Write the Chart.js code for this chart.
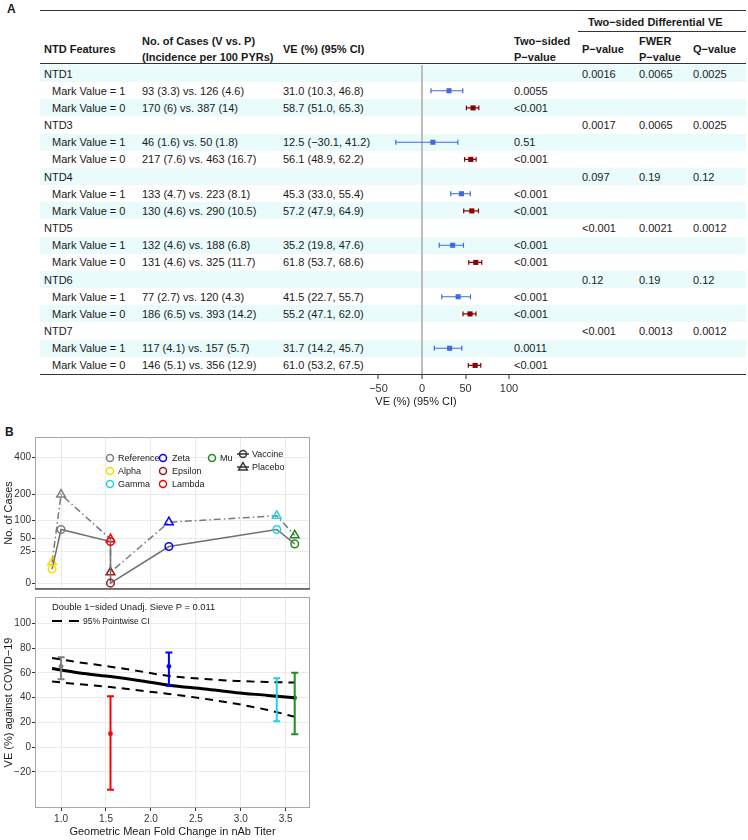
<!DOCTYPE html>
<html>
<head>
<meta charset="utf-8">
<script src="https://cdn.jsdelivr.net/npm/chart.js@4.4.1/dist/chart.umd.min.js"></script>
<style>
  html, body { margin: 0; padding: 0; background: #fff; }
  #fig { position: relative; width: 748px; height: 840px; overflow: hidden;
         font-family: "Liberation Sans", Arial, sans-serif; color: #1a1a1a; }
  .t { position: absolute; z-index: 1; font-size: 11px; line-height: 14px; white-space: nowrap; }
  .b { font-weight: bold; }
  .rule { position: absolute; z-index: 1; background: #333; }
  .band { position: absolute; z-index: 0; left: 40px; width: 706px; background: #e9fbfb; }
  .box { position: absolute; z-index: 2; }
</style>
</head>
<body>
<div id="fig">
  <div class="box" style="left:312px;top:55px;width:213px;height:355px"><canvas id="forest" width="213" height="355"></canvas></div>
  <div class="box" style="left:0;top:430px;width:322px;height:166px"><canvas id="cases" width="322" height="166"></canvas></div>
  <div class="box" style="left:0;top:590px;width:322px;height:250px"><canvas id="ve" width="322" height="250"></canvas></div>
</div>
<script>
Chart.defaults.font.family = '"Liberation Sans", Arial, sans-serif';
Chart.defaults.color = "#333";

// ---------- panel A data
const features = ["NTD1", "NTD3", "NTD4", "NTD5", "NTD6", "NTD7"];
const casesM1 = ["93 (3.3) vs. 126 (4.6)", "46 (1.6) vs. 50 (1.8)", "133 (4.7) vs. 223 (8.1)",
                 "132 (4.6) vs. 188 (6.8)", "77 (2.7) vs. 120 (4.3)", "117 (4.1) vs. 157 (5.7)"];
const casesM0 = ["170 (6) vs. 387 (14)", "217 (7.6) vs. 463 (16.7)", "130 (4.6) vs. 290 (10.5)",
                 "131 (4.6) vs. 325 (11.7)", "186 (6.5) vs. 393 (14.2)", "146 (5.1) vs. 356 (12.9)"];
const veM1 = [31.0, 12.5, 45.3, 35.2, 41.5, 31.7];
const loM1 = [10.3, -30.1, 33.0, 19.8, 22.7, 14.2];
const hiM1 = [46.8, 41.2, 55.4, 47.6, 55.7, 45.7];
const veM0 = [58.7, 56.1, 57.2, 61.8, 55.2, 61.0];
const loM0 = [51.0, 48.9, 47.9, 53.7, 47.1, 53.2];
const hiM0 = [65.3, 62.2, 64.9, 68.6, 62.0, 67.5];
const pM1 = ["0.0055", "0.51", "<0.001", "<0.001", "<0.001", "0.0011"];
const pM0 = ["<0.001", "<0.001", "<0.001", "<0.001", "<0.001", "<0.001"];
const diffP = ["0.0016", "0.0017", "0.097", "<0.001", "0.12", "<0.001"];
const fwerP = ["0.0065", "0.0065", "0.19", "0.0021", "0.19", "0.0013"];
const qValue = ["0.0025", "0.0025", "0.12", "0.0012", "0.12", "0.0012"];
const forestTicks = [-50, 0, 50, 100];

// ---------- panel B data
const variants = ["Alpha", "Reference", "Lambda", "Epsilon", "Zeta", "Gamma", "Mu"];
const variantColors = ["#ffd700", "#7f7f7f", "#ff0000", "#9b1c1c", "#0000ff", "#22d3e3", "#228b22"];
const foldChange = [0.9, 1.0, 1.55, 1.55, 2.2, 3.4, 3.6];
const vaccineCases = [5, 73, 44, 0, 34, 73, 39];
const placeboCases = [11, 199, 49, 3, 94, 115, 58];
const veEst = [null, 65.3, 10.8, null, 65.3, 41.1, 39.8];
const veLo = [null, 54.8, -34.5, null, 49.5, 20.8, 10.3];
const veHi = [null, 72.7, 41.1, null, 76.4, 55.6, 60.0];
const legendOrder = ["Reference", "Alpha", "Gamma", "Zeta", "Epsilon", "Lambda", "Mu"];
const curveFold = [0.9, 1.25, 1.55, 1.9, 2.2, 2.6, 2.95, 3.3, 3.6];
const curveVE = [63.5, 59.5, 57.0, 53.5, 50.0, 47.0, 44.0, 41.8, 39.8];
const curveUpper = [72.0, 68.0, 65.0, 61.0, 57.5, 55.0, 53.5, 52.6, 52.2];
const curveLower = [53.0, 50.5, 48.5, 45.5, 43.0, 39.0, 35.0, 30.0, 24.5];
const foldTicks = [1.0, 1.5, 2.0, 2.5, 3.0, 3.5];
const caseTicks = [0, 25, 50, 100, 200, 400];
const veTicks = [-20, 0, 20, 40, 60, 80, 100];

const minus = (v) => (v < 0 ? "\u2212" + Math.abs(v) : String(v));
const fmt1 = (v) => (v < 0 ? "\u2212" : "") + Math.abs(v).toFixed(1);

// ---------- html helpers
const fig = document.getElementById("fig");
function addText(txt, left, cy, bold, size) {
  const d = document.createElement("div");
  d.className = "t" + (bold ? " b" : "");
  d.textContent = txt;
  d.style.left = left + "px";
  d.style.top = (cy - 7) + "px";
  if (size) d.style.fontSize = size + "px";
  fig.appendChild(d);
  return d;
}
function addRule(left, top, width, h) {
  const d = document.createElement("div");
  d.className = "rule";
  Object.assign(d.style, { left: left + "px", top: top + "px", width: width + "px", height: (h || 1.3) + "px" });
  fig.appendChild(d);
}

// ---------- panel A table
const ROW_TOP = 65, ROW_H = 309 / 18;
const rowY = (r) => ROW_TOP + (r + 0.5) * ROW_H;

for (let r = 0; r < 18; r += 2) {
  const d = document.createElement("div");
  d.className = "band";
  d.style.top = (ROW_TOP + r * ROW_H) + "px";
  d.style.height = ROW_H + "px";
  fig.appendChild(d);
}

addText("A", 7, 9, true, 12);
addRule(40, 9.5, 706);
addText("Two\u2212sided Differential VE", 588, 22, true);
addRule(578, 30.5, 168);
addText("NTD Features", 44, 49, true);
addText("No. of Cases (V vs. P)", 142, 41, true);
addText("(Incidence per 100 PYRs)", 142, 57, true);
addText("VE (%) (95% CI)", 283, 49, true);
addText("Two\u2212sided", 514, 41, true);
addText("P\u2212value", 514, 57, true);
addText("P\u2212value", 582, 49, true);
addText("FWER", 639, 41, true);
addText("P\u2212value", 639, 57, true);
addText("Q\u2212value", 693, 49, true);
addRule(40, 62.5, 706);
addRule(40, 373.5, 706);

features.forEach((f, k) => {
  const r0 = 3 * k;
  addText(f, 44, rowY(r0));
  addText(diffP[k], 582, rowY(r0));
  addText(fwerP[k], 639, rowY(r0));
  addText(qValue[k], 693, rowY(r0));
  addText("Mark Value = 1", 52, rowY(r0 + 1));
  addText(casesM1[k], 142, rowY(r0 + 1));
  addText(`${fmt1(veM1[k])} (${fmt1(loM1[k])}, ${fmt1(hiM1[k])})`, 283, rowY(r0 + 1));
  addText(pM1[k], 514, rowY(r0 + 1));
  addText("Mark Value = 0", 52, rowY(r0 + 2));
  addText(casesM0[k], 142, rowY(r0 + 2));
  addText(`${fmt1(veM0[k])} (${fmt1(loM0[k])}, ${fmt1(hiM0[k])})`, 283, rowY(r0 + 2));
  addText(pM0[k], 514, rowY(r0 + 2));
});

// ---------- plugins
const errorBars = {
  id: "errorBars",
  afterDatasetsDraw(chart) {
    const { ctx } = chart;
    const xs = chart.scales.x, ys = chart.scales.y;
    chart.data.datasets.forEach((ds) => {
      const eb = ds.errorBars;
      if (!eb) return;
      ctx.save();
      ctx.lineWidth = eb.width;
      ds.data.forEach((p, i) => {
        if (p.lo == null) return;
        ctx.strokeStyle = Array.isArray(eb.color) ? eb.color[i] : eb.color;
        ctx.beginPath();
        if (eb.horizontal) {
          const y = ys.getPixelForValue(p.y);
          const a = xs.getPixelForValue(p.lo), b = xs.getPixelForValue(p.hi);
          ctx.moveTo(a, y); ctx.lineTo(b, y);
          ctx.moveTo(a, y - eb.cap); ctx.lineTo(a, y + eb.cap);
          ctx.moveTo(b, y - eb.cap); ctx.lineTo(b, y + eb.cap);
        } else {
          const x = xs.getPixelForValue(p.x);
          const a = ys.getPixelForValue(p.lo), b = ys.getPixelForValue(p.hi);
          ctx.moveTo(x, a); ctx.lineTo(x, b);
          ctx.moveTo(x - eb.cap, a); ctx.lineTo(x + eb.cap, a);
          ctx.moveTo(x - eb.cap, b); ctx.lineTo(x + eb.cap, b);
        }
        ctx.stroke();
      });
      ctx.restore();
    });
  },
};

const frame = {
  id: "frame",
  afterDraw(chart, args, opts) {
    const { ctx, chartArea: a } = chart;
    ctx.save();
    ctx.strokeStyle = opts.color || "#a0a0a0";
    ctx.lineWidth = 1;
    ctx.strokeRect(a.left + 0.5, a.top + 0.5, a.width - 1, a.height - 1);
    if (opts.bottom) {
      ctx.strokeStyle = opts.bottom;
      ctx.lineWidth = 1.6;
      ctx.beginPath();
      ctx.moveTo(a.left, a.bottom);
      ctx.lineTo(a.right, a.bottom);
      ctx.stroke();
    }
    ctx.restore();
  },
};

// ---------- panel A forest
const forestRows = (ve, lo, hi, offset) =>
  ve.map((v, k) => ({ x: v, y: 3 * k + offset + 0.5, lo: lo[k], hi: hi[k] }));

new Chart(document.getElementById("forest"), {
  type: "scatter",
  data: {
    datasets: [
      { data: forestRows(veM1, loM1, hiM1, 1), pointStyle: "rect", pointRadius: 3.6,
        backgroundColor: "#4169e1", borderColor: "#4169e1", borderWidth: 0,
        errorBars: { horizontal: true, color: "#4169e1", width: 1.2, cap: 2.4 } },
      { data: forestRows(veM0, loM0, hiM0, 2), pointStyle: "rect", pointRadius: 3.6,
        backgroundColor: "#8b0000", borderColor: "#8b0000", borderWidth: 0,
        errorBars: { horizontal: true, color: "#8b0000", width: 1.2, cap: 2.4 } },
    ],
  },
  plugins: [errorBars],
  options: {
    responsive: false,
    animation: false,
    layout: { padding: { top: 10, left: 10, right: 15, bottom: 0 } },
    plugins: { legend: { display: false }, tooltip: { enabled: false } },
    scales: {
      x: {
        type: "linear", min: -114.9, max: 101.1,
        afterBuildTicks: (s) => { s.ticks = forestTicks.map((v) => ({ value: v })); },
        afterFit: (s) => { s.height = 36; },
        ticks: { callback: (v) => minus(v), font: { size: 11 }, color: "#333", padding: 3 },
        grid: {
          color: (c) => (c.tick && c.tick.value === 0 ? "#bdbdbd" : "rgba(0,0,0,0)"),
          lineWidth: 2, tickLength: 5, tickColor: "#333", tickWidth: 1,
        },
        border: { display: false },
        title: { display: true, text: "VE (%) (95% CI)", font: { size: 11 }, color: "#1a1a1a",
                 padding: { top: 0, bottom: 1 } },
      },
      y: { type: "linear", min: 0, max: 18, reverse: true, display: false },
    },
  },
});

// ---------- panel B top: case counts on a square-root axis
const casePoints = (cases) => foldChange.map((f, i) => ({ x: f, y: Math.sqrt(cases[i]) }));

new Chart(document.getElementById("cases"), {
  type: "line",
  data: {
    datasets: [
      { label: "Vaccine", data: casePoints(vaccineCases), borderColor: "#6f6f6f", borderWidth: 1.5,
        pointStyle: "circle", pointRadius: 3.8, pointBorderWidth: 1.5,
        pointBorderColor: variantColors, pointBackgroundColor: "rgba(0,0,0,0)", tension: 0 },
      { label: "Placebo", data: casePoints(placeboCases), borderColor: "#7a7a7a", borderWidth: 1.5,
        borderDash: [7, 3, 1.5, 3], pointStyle: "triangle", pointRadius: 5, pointBorderWidth: 1.5,
        pointBorderColor: variantColors, pointBackgroundColor: "rgba(0,0,0,0)", tension: 0 },
    ],
  },
  plugins: [frame],
  options: {
    responsive: false,
    animation: false,
    layout: { padding: { top: 7, right: 12, bottom: 3, left: 0 } },
    plugins: { legend: { display: false }, tooltip: { enabled: false }, frame: { color: "#a6a6a6", bottom: "#555" } },
    scales: {
      x: {
        type: "linear", min: 0.71, max: 3.77,
        afterBuildTicks: (s) => { s.ticks = foldTicks.map((v) => ({ value: v })); },
        afterFit: (s) => { s.height = 0; },
        ticks: { display: false },
        grid: { color: "#ebebeb", drawTicks: false },
        border: { display: false },
      },
      y: {
        type: "linear", min: -0.93, max: 23.26,
        afterBuildTicks: (s) => { s.ticks = caseTicks.map((v) => ({ value: Math.sqrt(v) })); },
        afterFit: (s) => { s.width = 35; },
        ticks: { callback: (v) => String(Math.round(v * v)), font: { size: 10 }, color: "#333", padding: 1 },
        grid: { color: "#ebebeb", tickLength: 3, tickColor: "#333" },
        border: { display: false },
        title: { display: true, text: "No. of Cases", font: { size: 11 }, color: "#1a1a1a",
                 padding: { top: 2, bottom: 0 } },
      },
    },
  },
});

// ---------- panel B bottom: VE vs fold change
const curve = (vals) => curveFold.map((f, i) => ({ x: f, y: vals[i] }));
const veIdx = variants.map((v, i) => i).filter((i) => veEst[i] != null);

new Chart(document.getElementById("ve"), {
  type: "line",
  data: {
    datasets: [
      { data: curve(curveUpper), borderColor: "#000", borderWidth: 2, borderDash: [8, 6],
        pointRadius: 0, cubicInterpolationMode: "monotone" },
      { data: curve(curveLower), borderColor: "#000", borderWidth: 2, borderDash: [8, 6],
        pointRadius: 0, cubicInterpolationMode: "monotone" },
      { data: curve(curveVE), borderColor: "#000", borderWidth: 3,
        pointRadius: 0, cubicInterpolationMode: "monotone" },
      { data: veIdx.map((i) => ({ x: foldChange[i], y: veEst[i], lo: veLo[i], hi: veHi[i] })),
        showLine: false, pointRadius: 2.4, pointBorderWidth: 0,
        pointBackgroundColor: veIdx.map((i) => variantColors[i]),
        errorBars: { horizontal: false, color: veIdx.map((i) => variantColors[i]), width: 2, cap: 3.5 } },
    ],
  },
  plugins: [errorBars, frame],
  options: {
    responsive: false,
    animation: false,
    layout: { padding: { top: 3, right: 12, bottom: 1, left: 0 } },
    plugins: { legend: { display: false }, tooltip: { enabled: false }, frame: { color: "#a6a6a6" } },
    scales: {
      x: {
        type: "linear", min: 0.71, max: 3.77,
        afterBuildTicks: (s) => { s.ticks = foldTicks.map((v) => ({ value: v })); },
        afterFit: (s) => { s.height = 31; },
        ticks: { callback: (v) => v.toFixed(1), font: { size: 10 }, color: "#333", padding: 2, maxRotation: 0 },
        grid: { color: "#ebebeb", tickLength: 3, tickColor: "#333" },
        border: { display: false },
        title: { display: true, text: "Geometric Mean Fold Change in nAb Titer", font: { size: 11 },
                 color: "#1a1a1a", padding: { top: 0, bottom: 0 } },
      },
      y: {
        type: "linear", min: -49.2, max: 121.3,
        afterBuildTicks: (s) => { s.ticks = veTicks.map((v) => ({ value: v })); },
        afterFit: (s) => { s.width = 35; },
        ticks: { callback: (v) => minus(v), font: { size: 10 }, color: "#333", padding: 1 },
        grid: { color: "#ebebeb", tickLength: 3, tickColor: "#333" },
        border: { display: false },
        title: { display: true, text: "VE (%) against COVID\u221219", font: { size: 11 }, color: "#1a1a1a",
                 padding: { top: 2, bottom: 0 } },
      },
    },
  },
});

// ---------- panel B legends (html)
addText("B", 5, 432, true, 12);

const NS = "http://www.w3.org/2000/svg";
function addSymbol(shape, color, cx, cy, withLine) {
  const svg = document.createElementNS(NS, "svg");
  svg.setAttribute("width", "16"); svg.setAttribute("height", "14");
  Object.assign(svg.style, { position: "absolute", left: (cx - 8) + "px", top: (cy - 7) + "px", zIndex: 3 });
  if (withLine) {
    const l = document.createElementNS(NS, "line");
    l.setAttribute("x1", "2"); l.setAttribute("x2", "14"); l.setAttribute("y1", "7"); l.setAttribute("y2", "7");
    l.setAttribute("stroke", color); l.setAttribute("stroke-width", "1.5");
    svg.appendChild(l);
  }
  const s = document.createElementNS(NS, shape === "circle" ? "circle" : "polygon");
  if (shape === "circle") {
    s.setAttribute("cx", "8"); s.setAttribute("cy", "7"); s.setAttribute("r", "3.5");
  } else {
    s.setAttribute("points", "8,2.5 12.3,10 3.7,10");
  }
  s.setAttribute("fill", "none"); s.setAttribute("stroke", color); s.setAttribute("stroke-width", "1.5");
  svg.appendChild(s);
  fig.appendChild(svg);
}

const legCircleX = [110, 163, 212], legTextX = [118, 172, 220], legRowY = [458, 471, 484];
legendOrder.forEach((name, n) => {
  const col = Math.floor(n / 3), row = n % 3;
  addSymbol("circle", variantColors[variants.indexOf(name)], legCircleX[col], legRowY[row], false);
  addText(name, legTextX[col], legRowY[row], false, 9).style.zIndex = 3;
});
addSymbol("circle", "#333", 243, 454, true);
addText("Vaccine", 252, 454, false, 9).style.zIndex = 3;
addSymbol("triangle", "#333", 243, 467, true);
addText("Placebo", 252, 467, false, 9).style.zIndex = 3;

addText("Double 1\u2212sided Unadj. Sieve P = 0.011", 52, 607, false, 9.4).style.zIndex = 3;
const dash = document.createElementNS(NS, "svg");
dash.setAttribute("width", "30"); dash.setAttribute("height", "6");
Object.assign(dash.style, { position: "absolute", left: "52px", top: "618px", zIndex: 3 });
const dl = document.createElementNS(NS, "line");
dl.setAttribute("x1", "0"); dl.setAttribute("x2", "29"); dl.setAttribute("y1", "3"); dl.setAttribute("y2", "3");
dl.setAttribute("stroke", "#000"); dl.setAttribute("stroke-width", "2"); dl.setAttribute("stroke-dasharray", "10,7");
dash.appendChild(dl);
fig.appendChild(dash);
addText("95% Pointwise CI", 83, 621, false, 8.5).style.zIndex = 3;
</script>
</body>
</html>
